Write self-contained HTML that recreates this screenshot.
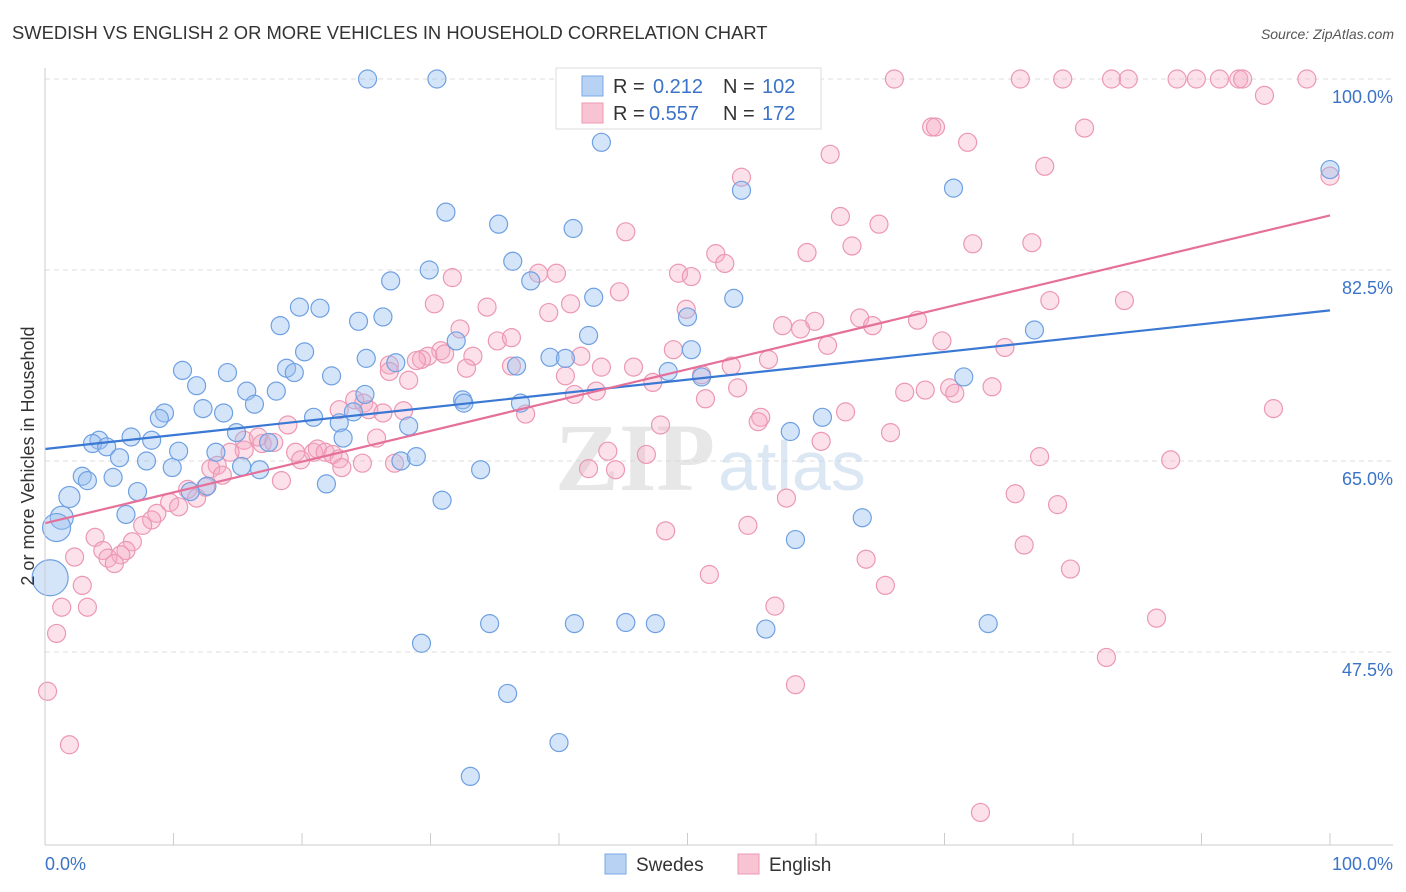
<!DOCTYPE html>
<html><head><meta charset="utf-8"><style>
body{margin:0;background:#fff;font-family:"Liberation Sans",sans-serif;}
svg{display:block}
</style></head><body>
<svg id="chart" width="1406" height="892" viewBox="0 0 1406 892" xmlns="http://www.w3.org/2000/svg">
<text x="12" y="39" font-size="18.4" fill="#333">SWEDISH VS ENGLISH 2 OR MORE VEHICLES IN HOUSEHOLD CORRELATION CHART</text>
<text x="1394" y="39" font-size="14" fill="#555" text-anchor="end" font-style="italic">Source: ZipAtlas.com</text>
<g id="grid"></g>
<g><text x="555" y="490" font-size="96" fill="#d8d8d8" font-family="Liberation Serif" font-weight="bold" opacity="0.6">ZIP</text><text x="718" y="490" font-size="70" fill="#c5d8ee" opacity="0.6">atlas</text></g>
<g id="pts"></g>
<g id="lines"></g>
<g id="axes"></g>
<text transform="translate(34,456) rotate(-90)" font-size="18" fill="#333" text-anchor="middle">2 or more Vehicles in Household</text>
<g>
<rect x="556" y="68" width="265" height="61" fill="#fff" stroke="#ddd"/>
<rect x="582" y="76" width="21" height="20" fill="#b8d2f4" stroke="#7aaae6"/>
<rect x="582" y="103" width="21" height="20" fill="#f8c4d3" stroke="#ec98b3"/>
<text x="613" y="93" font-size="20" fill="#333">R = </text><text x="653" y="93" font-size="20" fill="#3b73c8">0.212</text>
<text x="723" y="93" font-size="20" fill="#333">N = </text><text x="762" y="93" font-size="20" fill="#3b73c8">102</text>
<text x="613" y="120" font-size="20" fill="#333">R = </text><text x="649" y="120" font-size="20" fill="#3b73c8">0.557</text>
<text x="723" y="120" font-size="20" fill="#333">N = </text><text x="762" y="120" font-size="20" fill="#3b73c8">172</text>
</g>
<g>
<rect x="605" y="854" width="21" height="20" fill="#b8d2f4" stroke="#7aaae6"/>
<text x="636" y="871" font-size="19" fill="#333">Swedes</text>
<rect x="738" y="854" width="21" height="20" fill="#f8c4d3" stroke="#ec98b3"/>
<text x="769" y="871" font-size="19" fill="#333">English</text>
</g>
</svg>
<script>
const blueX=[25.1,30.5,43.3,54.2,70.7,100,31.2,35.3,41.1,36.4,29.9,26.9,37.8,42.7,53.6,19.8,21.4,26.3,24.4,50.0,18.3,42.3,32.0,20.2,25.0,27.3,39.3,40.5,50.3,18.8,19.4,36.7,10.7,14.2,22.3,48.5,51.1,71.5,77.0,11.8,15.7,18.0,24.9,16.3,12.3,13.9,9.3,8.9,32.5,32.6,24.0,20.9,22.9,28.3,37.0,60.5,58.0,14.9,6.7,8.3,23.2,4.2,3.7,4.8,10.4,13.3,17.4,5.8,7.9,27.7,28.9,15.3,16.7,9.9,33.9,2.9,5.3,3.3,21.9,12.6,11.3,7.2,1.9,30.9,6.3,1.3,0.9,0.4,63.6,58.4,34.6,41.2,45.2,47.5,56.1,73.4,29.3,36.0,40.0,33.1];
const blueY=[100,100,94.2,89.8,90.0,91.7,87.8,86.7,86.3,83.3,82.5,81.5,81.5,80.0,79.9,79.1,79.0,78.2,77.8,78.2,77.4,76.5,76.0,75.0,74.4,74.0,74.5,74.4,75.2,73.5,73.1,73.7,73.3,73.1,72.8,73.2,72.7,72.7,77.0,71.9,71.4,71.4,71.1,70.2,69.8,69.4,69.4,68.9,70.6,70.3,69.5,69.0,68.5,68.2,70.3,69.0,67.7,67.6,67.2,66.9,67.1,66.9,66.6,66.3,65.9,65.8,66.7,65.3,65.0,65.0,65.4,64.5,64.2,64.4,64.2,63.6,63.5,63.2,62.9,62.7,62.2,62.2,61.7,61.4,60.1,59.8,58.9,54.3,59.8,57.8,50.1,50.1,50.2,50.1,49.6,50.1,48.3,43.7,39.2,36.1];
const blueBig={82:10.5,85:11.5,86:14,87:18};
const pinkX=[66.1,75.9,79.2,83.0,84.3,88.1,89.6,91.4,92.9,93.2,98.2,94.9,69.0,69.3,80.9,71.8,61.1,77.8,54.2,100,61.9,64.9,45.2,62.8,72.2,76.8,52.2,59.3,52.9,49.3,50.3,39.8,38.4,31.7,44.7,78.2,84.0,30.3,34.4,40.9,39.2,49.9,63.4,67.9,59.9,57.4,58.8,64.4,32.3,35.2,36.3,60.9,69.8,74.7,48.9,30.8,31.1,29.8,33.3,41.7,29.3,28.9,26.8,36.3,32.8,43.3,45.8,56.3,53.4,26.8,40.5,28.3,47.3,51.1,53.9,66.9,68.5,70.4,70.8,73.7,41.2,42.9,51.4,24.1,24.8,25.2,22.9,26.3,27.9,37.4,62.3,55.7,55.5,95.6,18.9,47.9,65.8,25.8,60.4,15.5,16.9,16.6,17.8,19.5,20.9,21.2,21.8,22.4,22.9,19.9,15.5,14.4,43.8,46.8,77.4,87.6,13.4,12.9,27.2,24.7,23.1,42.3,44.4,13.8,18.4,12.5,11.1,11.8,9.7,10.4,8.7,8.3,7.6,75.5,78.8,57.7,54.7,48.3,6.8,3.9,4.5,6.3,5.9,4.9,5.4,2.3,2.9,76.2,63.9,79.8,51.7,65.4,1.3,3.3,56.8,86.5,0.9,82.6,0.2,58.4,1.9,72.8];
const pinkY=[100,100,100,100,100,100,100,100,100,100,100,98.5,95.6,95.6,95.5,94.2,93.1,92.0,91.0,91.1,87.4,86.7,86.0,84.7,84.9,85.0,84.0,84.1,83.1,82.2,81.9,82.2,82.2,81.8,80.5,79.7,79.7,79.4,79.1,79.4,78.6,78.9,78.1,77.9,77.8,77.4,77.1,77.4,77.1,76.0,76.3,75.6,76.0,75.4,75.2,75.1,74.8,74.6,74.6,74.6,74.3,74.2,73.8,73.7,73.5,73.6,73.6,74.3,73.7,73.2,72.8,72.4,72.2,72.9,71.7,71.3,71.5,71.7,71.2,71.8,71.1,71.4,70.7,70.6,70.3,69.7,69.7,69.4,69.6,69.3,69.5,69.0,68.6,69.8,68.3,68.3,67.6,67.1,66.8,66.9,66.6,67.2,66.7,65.8,65.8,66.1,65.8,65.6,65.2,65.1,66.0,65.8,65.9,65.6,65.4,65.1,64.6,64.3,64.8,64.8,64.4,64.3,64.2,63.7,63.2,62.6,62.4,61.6,61.2,60.8,60.2,59.6,59.1,62.0,61.0,61.6,59.1,58.6,57.6,58.0,56.8,56.8,56.4,56.1,55.6,56.2,53.6,57.3,56.0,55.1,54.6,53.6,51.6,51.6,51.7,50.6,49.2,47.0,43.9,44.5,39.0,32.8];
const blueTrend=[66.1,78.8];
const pinkTrend=[59.3,87.5];
const yTicks=[100,82.5,65,47.5];
const yTickLabels=["100.0%","82.5%","65.0%","47.5%"];
const xTicks=[0,10,20,30,40,50,60,70,80,90,100];

const NS="http://www.w3.org/2000/svg";
const sx=v=>45+v*12.85;
const sy=v=>79+(100-v)*10.914;
function mk(tag,attrs,parent){const e=document.createElementNS(NS,tag);for(const k in attrs)e.setAttribute(k,attrs[k]);parent.appendChild(e);return e;}
const grid=document.getElementById('grid'),axes=document.getElementById('axes'),pts=document.getElementById('pts'),lines=document.getElementById('lines');
yTicks.forEach((t,i)=>{
  const l=mk('line',{x1:45,x2:1393,y1:sy(t),y2:sy(t),stroke:'#ddd','stroke-dasharray':'5,4'},grid);
  
  
  const tx=mk('text',{x:1393,y:sy(t)+24,'font-size':18,fill:'#3b73c8','text-anchor':'end'},axes);
  tx.textContent=yTickLabels[i];
  
  
});
const ya=mk('line',{x1:45,x2:45,y1:68,y2:845,stroke:'#ccc'},axes);


const xa=mk('line',{x1:45,x2:1393,y1:845,y2:845,stroke:'#ccc'},axes);


xTicks.forEach(t=>{
  const tk=mk('line',{x1:sx(t),x2:sx(t),y1:833,y2:845,stroke:'#ccc'},axes);
  
  
});
[[0,"0.0%","start",45],[100,"100.0%","end",1393]].forEach(a=>{
  const tx=mk('text',{x:a[3],y:870,'font-size':18,fill:'#3b73c8','text-anchor':a[2]},axes);
  tx.textContent=a[1];
  
  
});
pinkX.forEach((x,i)=>{
  const c=mk('circle',{cx:sx(x),cy:sy(pinkY[i]),r:9,fill:'rgba(246,170,195,0.35)',stroke:'#ec98b3','stroke-width':1.2},pts);
  
  
});
blueX.forEach((x,i)=>{
  const c=mk('circle',{cx:sx(x),cy:sy(blueY[i]),r:blueBig[i]||9,fill:'rgba(150,190,240,0.4)',stroke:'#6fa0e2','stroke-width':1.2},pts);
  
  
});
const bl=mk('line',{x1:sx(0),y1:sy(blueTrend[0]),x2:sx(100),y2:sy(blueTrend[1]),stroke:'#3a78d4','stroke-width':2.2},lines);


const pl=mk('line',{x1:sx(0),y1:sy(pinkTrend[0]),x2:sx(100),y2:sy(pinkTrend[1]),stroke:'#e5709a','stroke-width':2.2},lines);


</script>
</body></html>
